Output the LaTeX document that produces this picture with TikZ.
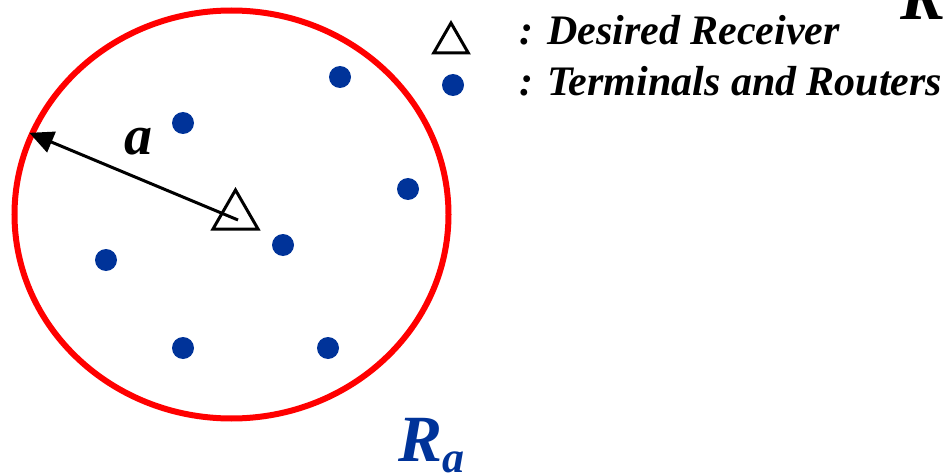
\documentclass[tikz,border=0pt]{standalone}
\usepackage{fontspec}
\setmainfont{Liberation Serif}
\usepackage{xcolor}
\usepackage{tikz}
\usetikzlibrary{arrows.meta, shapes.geometric}
\definecolor{nodeblue}{RGB}{0,51,153}

\begin{document}
\begin{tikzpicture}[x=0.5pt, y=-0.5pt,
  terminal/.style={circle, fill=nodeblue, inner sep=0pt, minimum size=11pt},
  receiver/.style={draw, line width=1.5pt, regular polygon, regular polygon sides=3, inner sep=0pt, minimum size=#1},
  bigtext/.style={anchor=base west, font=\fontsize{#1}{#1}\selectfont\bfseries\itshape}]
  \useasboundingbox (0,0) rectangle (948,476);
  % area de cobertura
  \node[draw=red, line width=3pt, ellipse, minimum width=217pt, minimum height=204pt, inner sep=0pt] (area) at (231.5,214.5) {};
  % receptor desejado e raio a
  \node[receiver=26pt] (rx) at (235.5,216) {};
  \coordinate (tail) at (238,220);
  \draw[line width=1.5pt, -{Triangle[length=12pt,width=11pt]}] (tail) -- (area.158);
  \node[bigtext=28, anchor=base] (alabel) at (138,155) {a};
  % terminais e roteadores
  \node[terminal] (t1) at (340,77) {};
  \node[terminal] (t2) at (183,123) {};
  \node[terminal] (t3) at (408,189) {};
  \node[terminal] (t4) at (283,245) {};
  \node[terminal] (t5) at (106,260) {};
  \node[terminal] (t6) at (183,348) {};
  \node[terminal] (t7) at (328,348) {};
  % rotulo da area
  \node[bigtext=33, text=nodeblue] (ralabel) at (391,461) {R\raisebox{-5.5pt}{\fontsize{22}{22}\selectfont a}};
  \node[bigtext=34] (rcorner) at (893,20) {R};
  % legenda
  \node[receiver=20pt] (legrx) at (451,43) {};
  \node[terminal] (legterm) at (453,85) {};
  \node[bigtext=21] (legrxtext) at (512,45) {: Desired Receiver};
  \node[bigtext=21] (legtermtext) at (512,96) {: Terminals and Routers};
\end{tikzpicture}
\end{document}
